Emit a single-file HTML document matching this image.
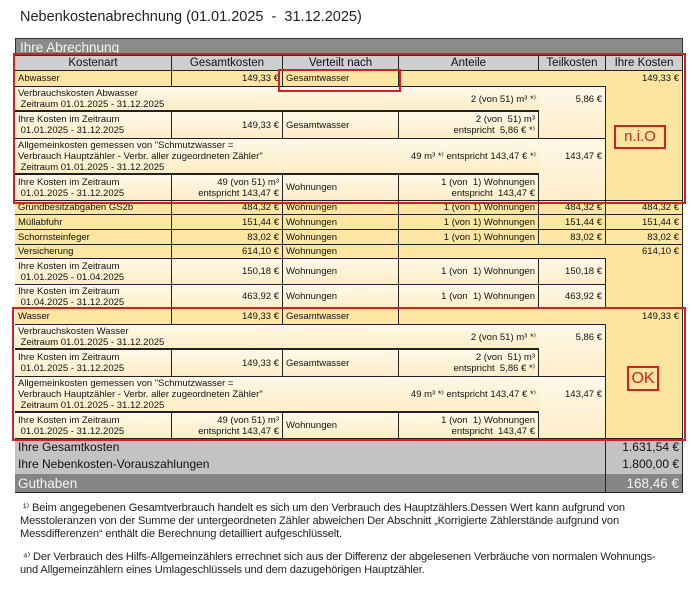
<!DOCTYPE html>
<html><head><meta charset="utf-8"><style>
body{margin:0;width:692px;height:590px;background:#fff;position:relative;overflow:hidden;font-family:"Liberation Sans",Arial,sans-serif;color:#111}
.c{position:absolute;box-sizing:border-box;border-right:1px solid #222;border-bottom:1px solid #222;font-size:9.5px;line-height:11px;padding:0 3px;display:flex;align-items:center;white-space:nowrap;overflow:hidden}
.r{justify-content:flex-end;text-align:right}
.t{align-items:flex-start;padding-top:2px}
.Y{background:#fce6a2}
.C{background:linear-gradient(#fff8e8,#fdeec8)}
.K{background:#fde5a0}
.h{background:#cfcfcf;justify-content:center;font-size:11.5px}
.box{position:absolute;border:2px solid #d42020;box-sizing:border-box}
.fn{position:absolute;left:20px;font-size:11.1px;line-height:13px;color:#222;letter-spacing:-0.15px;white-space:nowrap}
</style></head><body>
<div style="position:absolute;left:20px;top:9px;font-size:14.5px;color:#222">Nebenkostenabrechnung (01.01.2025&nbsp; - &nbsp;31.12.2025)</div>
<div style="position:absolute;left:15px;top:38px;width:668px;height:18px;background:#8b8b8b;border:1px solid #333;box-sizing:border-box;color:#f4f4f4;font-size:13.5px;padding-left:4px;line-height:17px">Ihre Abrechnung</div>
<div style="position:absolute;left:15px;top:56px;width:668px;height:437px;border-left:1px solid #222;box-sizing:border-box"></div>
<!-- headers -->
<div class="c h" style="left:15px;top:56px;width:157px;height:15px">Kostenart</div>
<div class="c h" style="left:172px;top:56px;width:111px;height:15px">Gesamtkosten</div>
<div class="c h" style="left:283px;top:56px;width:116px;height:15px">Verteilt nach</div>
<div class="c h" style="left:399px;top:56px;width:140px;height:15px">Anteile</div>
<div class="c h" style="left:539px;top:56px;width:67px;height:15px">Teilkosten</div>
<div class="c h" style="left:606px;top:56px;width:77px;height:15px">Ihre Kosten</div>

<!-- Abwasser -->
<div class="c Y" style="left:15px;top:71px;width:157px;height:16px">Abwasser</div>
<div class="c Y r" style="left:172px;top:71px;width:111px;height:16px">149,33 €</div>
<div class="c Y" style="left:283px;top:71px;width:116px;height:16px">Gesamtwasser</div>
<div class="c Y" style="left:399px;top:71px;width:207px;height:16px;border-right:none"></div>
<div class="c K r t" style="left:606px;top:71px;width:77px;height:130px">149,33 €</div>
<div class="c C" style="left:15px;top:87px;width:524px;height:24px;border-right:none">Verbrauchskosten Abwasser<br>&nbsp;Zeitraum 01.01.2025 - 31.12.2025</div>
<div class="c r" style="left:399px;top:87px;width:140px;height:24px;border:none">2 (von 51) m³ *⁾</div>
<div class="c C r" style="left:539px;top:87px;width:67px;height:52px;align-items:flex-start;padding-top:7px">5,86 €</div>
<div class="c C" style="left:15px;top:111px;width:157px;height:28px;border-top:1px solid #222">Ihre Kosten im Zeitraum<br>&nbsp;01.01.2025 - 31.12.2025</div>
<div class="c C r" style="left:172px;top:111px;width:111px;height:28px;border-top:1px solid #222">149,33 €</div>
<div class="c C" style="left:283px;top:111px;width:116px;height:28px;border-top:1px solid #222">Gesamtwasser</div>
<div class="c C r" style="left:399px;top:111px;width:140px;height:28px;border-top:1px solid #222">2 (von&nbsp; 51) m³<br>entspricht&nbsp; 5,86 € *⁾</div>
<div class="c C" style="left:15px;top:139px;width:524px;height:35px;border-right:none">Allgemeinkosten gemessen von "Schmutzwasser =<br>Verbrauch Hauptzähler - Verbr. aller zugeordneten Zähler"<br>&nbsp;Zeitraum 01.01.2025 - 31.12.2025</div>
<div class="c r" style="left:380px;top:139px;width:159px;height:35px;border:none">49 m³ *⁾ entspricht 143,47 € *⁾</div>
<div class="c C r" style="left:539px;top:139px;width:67px;height:62px;align-items:flex-start;padding-top:12px">143,47 €</div>
<div class="c C" style="left:15px;top:174px;width:157px;height:27px;border-top:1px solid #222">Ihre Kosten im Zeitraum<br>&nbsp;01.01.2025 - 31.12.2025</div>
<div class="c C r" style="left:172px;top:174px;width:111px;height:27px;border-top:1px solid #222">49 (von 51) m³<br>entspricht 143,47 €</div>
<div class="c C" style="left:283px;top:174px;width:116px;height:27px;border-top:1px solid #222">Wohnungen</div>
<div class="c C r" style="left:399px;top:174px;width:140px;height:27px;border-top:1px solid #222">1 (von&nbsp; 1) Wohnungen<br>entspricht&nbsp; 143,47 €</div>

<!-- simple rows -->
<div class="c Y" style="left:15px;top:201px;width:157px;height:14px">Grundbesitzabgaben GS2b</div>
<div class="c Y r" style="left:172px;top:201px;width:111px;height:14px">484,32 €</div>
<div class="c Y" style="left:283px;top:201px;width:116px;height:14px">Wohnungen</div>
<div class="c Y r" style="left:399px;top:201px;width:140px;height:14px">1 (von 1) Wohnungen</div>
<div class="c Y r" style="left:539px;top:201px;width:67px;height:14px">484,32 €</div>
<div class="c Y r" style="left:606px;top:201px;width:77px;height:14px">484,32 €</div>

<div class="c Y" style="left:15px;top:215px;width:157px;height:15px">Müllabfuhr</div>
<div class="c Y r" style="left:172px;top:215px;width:111px;height:15px">151,44 €</div>
<div class="c Y" style="left:283px;top:215px;width:116px;height:15px">Wohnungen</div>
<div class="c Y r" style="left:399px;top:215px;width:140px;height:15px">1 (von 1) Wohnungen</div>
<div class="c Y r" style="left:539px;top:215px;width:67px;height:15px">151,44 €</div>
<div class="c Y r" style="left:606px;top:215px;width:77px;height:15px">151,44 €</div>

<div class="c Y" style="left:15px;top:230px;width:157px;height:15px">Schornsteinfeger</div>
<div class="c Y r" style="left:172px;top:230px;width:111px;height:15px">83,02 €</div>
<div class="c Y" style="left:283px;top:230px;width:116px;height:15px">Wohnungen</div>
<div class="c Y r" style="left:399px;top:230px;width:140px;height:15px">1 (von 1) Wohnungen</div>
<div class="c Y r" style="left:539px;top:230px;width:67px;height:15px">83,02 €</div>
<div class="c Y r" style="left:606px;top:230px;width:77px;height:15px">83,02 €</div>

<div class="c Y" style="left:15px;top:245px;width:157px;height:14px">Versicherung</div>
<div class="c Y r" style="left:172px;top:245px;width:111px;height:14px">614,10 €</div>
<div class="c Y" style="left:283px;top:245px;width:116px;height:14px">Wohnungen</div>
<div class="c Y" style="left:399px;top:245px;width:207px;height:14px;border-right:none"></div>
<div class="c K r t" style="left:606px;top:245px;width:77px;height:64px;padding-top:1px">614,10 €</div>
<div class="c C" style="left:15px;top:259px;width:157px;height:26px">Ihre Kosten im Zeitraum<br>&nbsp;01.01.2025 - 01.04.2025</div>
<div class="c C r" style="left:172px;top:259px;width:111px;height:26px">150,18 €</div>
<div class="c C" style="left:283px;top:259px;width:116px;height:26px">Wohnungen</div>
<div class="c C r" style="left:399px;top:259px;width:140px;height:26px">1 (von&nbsp; 1) Wohnungen</div>
<div class="c C r" style="left:539px;top:259px;width:67px;height:26px">150,18 €</div>
<div class="c C" style="left:15px;top:285px;width:157px;height:24px">Ihre Kosten im Zeitraum<br>&nbsp;01.04.2025 - 31.12.2025</div>
<div class="c C r" style="left:172px;top:285px;width:111px;height:24px">463,92 €</div>
<div class="c C" style="left:283px;top:285px;width:116px;height:24px">Wohnungen</div>
<div class="c C r" style="left:399px;top:285px;width:140px;height:24px">1 (von&nbsp; 1) Wohnungen</div>
<div class="c C r" style="left:539px;top:285px;width:67px;height:24px">463,92 €</div>

<!-- Wasser -->
<div class="c Y" style="left:15px;top:309px;width:157px;height:16px">Wasser</div>
<div class="c Y r" style="left:172px;top:309px;width:111px;height:16px">149,33 €</div>
<div class="c Y" style="left:283px;top:309px;width:116px;height:16px">Gesamtwasser</div>
<div class="c Y" style="left:399px;top:309px;width:207px;height:16px;border-right:none"></div>
<div class="c K r t" style="left:606px;top:309px;width:77px;height:130px">149,33 €</div>
<div class="c C" style="left:15px;top:325px;width:524px;height:24px;border-right:none">Verbrauchskosten Wasser<br>&nbsp;Zeitraum 01.01.2025 - 31.12.2025</div>
<div class="c r" style="left:399px;top:325px;width:140px;height:24px;border:none">2 (von 51) m³ *⁾</div>
<div class="c C r" style="left:539px;top:325px;width:67px;height:52px;align-items:flex-start;padding-top:7px">5,86 €</div>
<div class="c C" style="left:15px;top:349px;width:157px;height:28px;border-top:1px solid #222">Ihre Kosten im Zeitraum<br>&nbsp;01.01.2025 - 31.12.2025</div>
<div class="c C r" style="left:172px;top:349px;width:111px;height:28px;border-top:1px solid #222">149,33 €</div>
<div class="c C" style="left:283px;top:349px;width:116px;height:28px;border-top:1px solid #222">Gesamtwasser</div>
<div class="c C r" style="left:399px;top:349px;width:140px;height:28px;border-top:1px solid #222">2 (von&nbsp; 51) m³<br>entspricht&nbsp; 5,86 € *⁾</div>
<div class="c C" style="left:15px;top:377px;width:524px;height:35px;border-right:none">Allgemeinkosten gemessen von "Schmutzwasser =<br>Verbrauch Hauptzähler - Verbr. aller zugeordneten Zähler"<br>&nbsp;Zeitraum 01.01.2025 - 31.12.2025</div>
<div class="c r" style="left:380px;top:377px;width:159px;height:35px;border:none">49 m³ *⁾ entspricht 143,47 € *⁾</div>
<div class="c C r" style="left:539px;top:377px;width:67px;height:62px;align-items:flex-start;padding-top:12px">143,47 €</div>
<div class="c C" style="left:15px;top:412px;width:157px;height:27px;border-top:1px solid #222">Ihre Kosten im Zeitraum<br>&nbsp;01.01.2025 - 31.12.2025</div>
<div class="c C r" style="left:172px;top:412px;width:111px;height:27px;border-top:1px solid #222">49 (von 51) m³<br>entspricht 143,47 €</div>
<div class="c C" style="left:283px;top:412px;width:116px;height:27px;border-top:1px solid #222">Wohnungen</div>
<div class="c C r" style="left:399px;top:412px;width:140px;height:27px;border-top:1px solid #222">1 (von&nbsp; 1) Wohnungen<br>entspricht&nbsp; 143,47 €</div>

<!-- totals -->
<div class="c" style="left:15px;top:439px;width:591px;height:16px;background:#c3c3c3;border-bottom:none;font-size:12px">Ihre Gesamtkosten</div>
<div class="c r" style="left:606px;top:439px;width:77px;height:16px;background:#c3c3c3;border-bottom:none;font-size:12px">1.631,54 €</div>
<div class="c" style="left:15px;top:455px;width:591px;height:19px;background:#c3c3c3;border-bottom:none;font-size:12px">Ihre Nebenkosten-Vorauszahlungen</div>
<div class="c r" style="left:606px;top:455px;width:77px;height:19px;background:#c3c3c3;border-bottom:none;font-size:12px">1.800,00 €</div>
<div class="c" style="left:15px;top:474px;width:591px;height:19px;background:#858585;color:#f4f4f4;font-size:13.5px">Guthaben</div>
<div class="c r" style="left:606px;top:474px;width:77px;height:19px;background:#858585;color:#f4f4f4;font-size:13.5px">168,46 €</div>

<!-- red boxes -->
<div class="box" style="left:13px;top:53px;width:673px;height:151px"></div>
<div class="box" style="left:278px;top:69px;width:123px;height:23px"></div>
<div class="box" style="left:614px;top:125px;width:52px;height:24px;color:#d42020;font-size:15px;text-align:center;line-height:19px;background:#fde5a0">n.i.O</div>
<div class="box" style="left:12px;top:307px;width:674px;height:134px"></div>
<div class="box" style="left:627px;top:366px;width:32px;height:25px;color:#d42020;font-size:16px;text-align:center;line-height:21px;background:#fde5a0">OK</div>

<div class="fn" style="top:502px">&nbsp;¹⁾ Beim angegebenen Gesamtverbrauch handelt es sich um den Verbrauch des Hauptzählers.Dessen Wert kann aufgrund von<br>Messtoleranzen von der Summe der untergeordneten Zähler abweichen Der Abschnitt „Korrigierte Zählerstände aufgrund von<br>Messdifferenzen“ enthält die Berechnung detailliert aufgeschlüsselt.</div>
<div class="fn" style="top:551px">&nbsp;⁴⁾ Der Verbrauch des Hilfs-Allgemeinzählers errechnet sich aus der Differenz der abgelesenen Verbräuche von normalen Wohnungs-<br>und Allgemeinzählern eines Umlageschlüssels und dem dazugehörigen Hauptzähler.</div>
</body></html>
